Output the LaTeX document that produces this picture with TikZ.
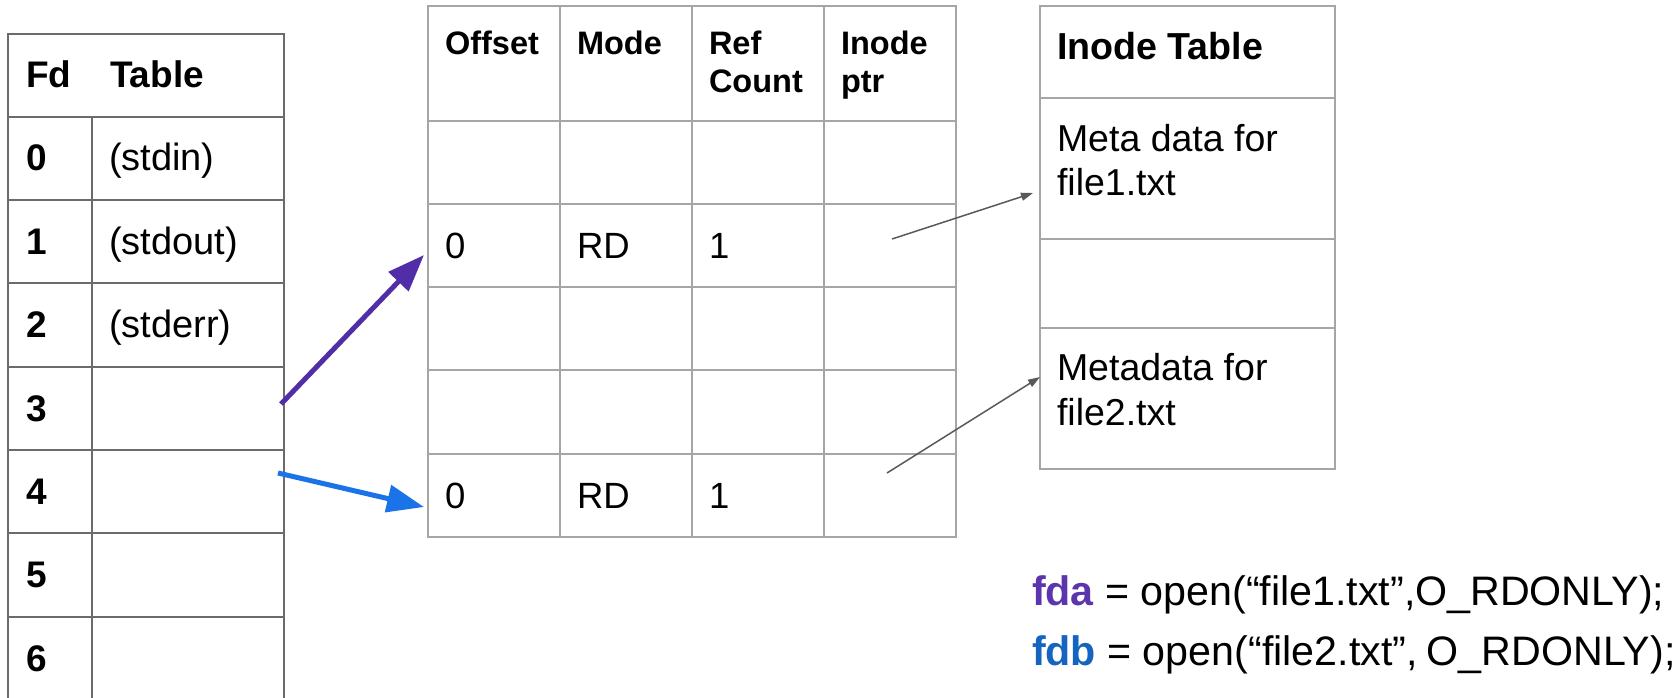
\documentclass[tikz,border=0pt]{standalone}
\usepackage{fontspec}
\setmainfont{Liberation Sans}
\usetikzlibrary{arrows.meta}

\definecolor{fdline}{HTML}{6B6B6B}
\definecolor{gridline}{HTML}{A6A6A6}
\definecolor{ptrgray}{HTML}{595959}
\definecolor{fdapurple}{HTML}{512DA8}
\definecolor{fdbblue}{HTML}{1A73E8}
\definecolor{fdatext}{HTML}{5B35AE}
\definecolor{fdbtext}{HTML}{1565C0}

\begin{document}
\begin{tikzpicture}[x=1pt,y=-1pt,
  txt/.style={anchor=base west,inner sep=0pt,outer sep=0pt},
  fdhead/.style={txt,font=\fontsize{37}{44}\selectfont\bfseries},
  fdbody/.style={txt,font=\fontsize{38}{45}\selectfont},
  ofthead/.style={txt,font=\fontsize{32.5}{39}\selectfont\bfseries},
  oftbody/.style={txt,font=\fontsize{36.5}{43}\selectfont},
  inohead/.style={txt,font=\fontsize{37.6}{45}\selectfont\bfseries},
  inobody/.style={txt,font=\fontsize{37.5}{45}\selectfont},
  codeline/.style={txt,font=\fontsize{41.2}{49}\selectfont},
  fdgrid/.style={draw=fdline,line width=1.4pt},
  tabgrid/.style={draw=gridline,line width=1.4pt},
  bigarrow/.style={line width=5pt,-{Triangle[length=37pt,width=27pt]}},
  ptrarrow/.style={draw=ptrgray,line width=1.5pt,-{Triangle[length=12pt,width=8pt]}}
]
\useasboundingbox (0,0) rectangle (1674,698);
\clip (0,0) rectangle (1674,698);

% ---------------- file descriptor table ----------------
\draw[fdgrid] (8,34) rectangle (284,730);
\foreach \yy in {117,200,283,367,450,533,617}
  \draw[fdgrid] (8,\yy) -- (284,\yy);
\draw[fdgrid] (92,117) -- (92,730);

\node[fdhead] (fdH) at (26,88) {Fd};
\node[fdhead] (fdT) at (110,88) {Table};
\node[fdhead] (fd0) at (26,171) {0};
\node[fdhead] (fd1) at (26,254) {1};
\node[fdhead] (fd2) at (26,337.5) {2};
\node[fdhead] (fd3) at (26,421) {3};
\node[fdhead] (fd4) at (26,504) {4};
\node[fdhead] (fd5) at (26,587.5) {5};
\node[fdhead] (fd6) at (26,671) {6};
\node[fdbody] (fdv0) at (109,171) {(stdin)};
\node[fdbody] (fdv1) at (109,254) {(stdout)};
\node[fdbody] (fdv2) at (109,337.5) {(stderr)};

% ---------------- open file table ----------------
\draw[tabgrid] (428,6) rectangle (956,537);
\foreach \yy in {121,204,287,370,454}
  \draw[tabgrid] (428,\yy) -- (956,\yy);
\foreach \xx in {560,692,824}
  \draw[tabgrid] (\xx,6) -- (\xx,537);

\node[ofthead] (hOff) at (445,55) {Offset};
\node[ofthead] (hMode) at (577,55) {Mode};
\node[ofthead] (hRef) at (709,55) {Ref};
\node[ofthead] (hCnt) at (709,93) {Count};
\node[ofthead] (hIno) at (841,55) {Inode};
\node[ofthead] (hPtr) at (841,93) {ptr};

\node[oftbody] (aOff) at (445,258) {0};
\node[oftbody] (aMode) at (577,258) {RD};
\node[oftbody] (aRef) at (709,258) {1};
\node[oftbody] (bOff) at (445,508) {0};
\node[oftbody] (bMode) at (577,508) {RD};
\node[oftbody] (bRef) at (709,508) {1};

% ---------------- inode table ----------------
\draw[tabgrid] (1040,6) rectangle (1335,469);
\foreach \yy in {98,239,328}
  \draw[tabgrid] (1040,\yy) -- (1335,\yy);

\node[inohead] (inoH) at (1057,60) {Inode Table};
\node[inobody] (inoA1) at (1057,152) {Meta data for};
\node[inobody] (inoA2) at (1057,195) {file1.txt};
\node[inobody] (inoB1) at (1057,380) {Metadata for};
\node[inobody] (inoB2) at (1057,425) {file2.txt};

% ---------------- pointers ----------------
\coordinate (fd3out) at (281,404);
\coordinate (ofA) at (424,255);
\coordinate (fd4out) at (278,473);
\coordinate (ofB) at (424,507);
\coordinate (ptrA) at (892,239);
\coordinate (inoA) at (1033,193);
\coordinate (ptrB) at (887,473);
\coordinate (inoB) at (1040,377);

\draw[bigarrow,fdapurple] (fd3out) -- (ofA);
\draw[bigarrow,fdbblue] (fd4out) -- (ofB);
\draw[ptrarrow] (ptrA) -- (inoA);
\draw[ptrarrow] (ptrB) -- (inoB);

% ---------------- code ----------------
\node[codeline] (codeA) at (1032,605)
  {{\color{fdatext}\bfseries fda} = open(“file1.txt”,O\_RDONLY);};
\node[codeline] (codeB) at (1032,665)
  {{\color{fdbtext}\bfseries fdb} = open(“file2.txt”,\hspace{0.22em}O\_RDONLY);};
\end{tikzpicture}
\end{document}
